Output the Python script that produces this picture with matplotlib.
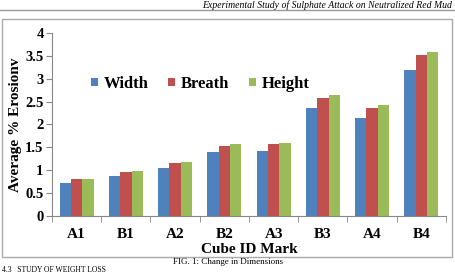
import numpy as np
import matplotlib.pyplot as plt
from matplotlib.patches import Rectangle
from matplotlib.lines import Line2D

cubes = ['A1', 'B1', 'A2', 'B2', 'A3', 'B3', 'A4', 'B4']
width = [0.72, 0.88, 1.04, 1.39, 1.42, 2.35, 2.15, 3.19]
breath = [0.80, 0.96, 1.15, 1.53, 1.57, 2.58, 2.36, 3.51]
height = [0.81, 0.98, 1.17, 1.57, 1.60, 2.65, 2.42, 3.59]

serif = 'Liberation Serif'
fig = plt.figure(figsize=(4.56, 2.73), dpi=100)
ax = fig.add_axes([0.114, 0.2088, 0.864, 0.671])

x = np.arange(len(cubes))
w = 0.23
ax.bar(x - w, width, w, color='#4F81BD', label='Width')
ax.bar(x, breath, w, color='#C0504D', label='Breath')
ax.bar(x + w, height, w, color='#9BBB59', label='Height')

ax.set_xlim(-0.5, len(cubes) - 0.5)
ax.set_ylim(0, 4)
ax.set_yticks(np.arange(0, 4.01, 0.5))
ax.set_yticklabels(['0', '0.5', '1', '1.5', '2', '2.5', '3', '3.5', '4'])
ax.set_xticks(x)
ax.set_xticklabels(cubes)
ax.set_xticks(np.arange(-0.5, len(cubes), 1), minor=True)
ax.tick_params(axis='x', which='major', length=0, pad=9)
ax.tick_params(axis='x', which='minor', length=4, color='#888888')
ax.tick_params(axis='y', length=4, color='#888888', pad=2)
for lab in ax.get_xticklabels() + ax.get_yticklabels():
    lab.set_fontfamily(serif)
    lab.set_fontweight('bold')
    lab.set_fontsize(10.5)
for lab in ax.get_xticklabels():
    lab.set_fontsize(11)

for s in ['top', 'right']:
    ax.spines[s].set_visible(False)
for s in ['left', 'bottom']:
    ax.spines[s].set_color('#888888')
    ax.spines[s].set_linewidth(0.8)

ax.set_xlabel('Cube ID Mark', fontfamily=serif, fontweight='bold', fontsize=11, labelpad=1)
ax.set_ylabel('Average % Erosionv', fontfamily=serif, fontweight='bold', fontsize=11, labelpad=2)

ax.legend(loc='upper left', bbox_to_anchor=(0.062, 0.846), ncol=3, frameon=False,
          prop={'family': serif, 'weight': 'bold', 'size': 12},
          handlelength=0.42, handleheight=0.42, handletextpad=0.35, columnspacing=1.15)

# page elements around the chart
fig.patches.append(Rectangle((2 / 456, 16 / 273), 450 / 456, 238 / 273, transform=fig.transFigure,
                             fill=False, edgecolor='#aaaaaa', linewidth=1))
fig.add_artist(Line2D([0, 1], [1 - 9.5 / 273] * 2, transform=fig.transFigure, color='#999999', lw=1))
fig.text(452 / 456, 1 - 7.5 / 273, 'Experimental Study of Sulphate Attack on Neutralized Red Mud',
         ha='right', va='baseline', fontfamily=serif, style='italic', fontsize=7)
fig.text(0.5, 1 - 262 / 273, 'FIG. 1: Change in Dimensions', ha='center', va='center',
         fontfamily=serif, fontsize=6.5)
fig.text(2 / 456, 1 - 271.5 / 273, '4.3   STUDY OF WEIGHT LOSS', ha='left', va='baseline',
         fontfamily=serif, fontsize=5.5)

fig.savefig('out.png', dpi=100)
